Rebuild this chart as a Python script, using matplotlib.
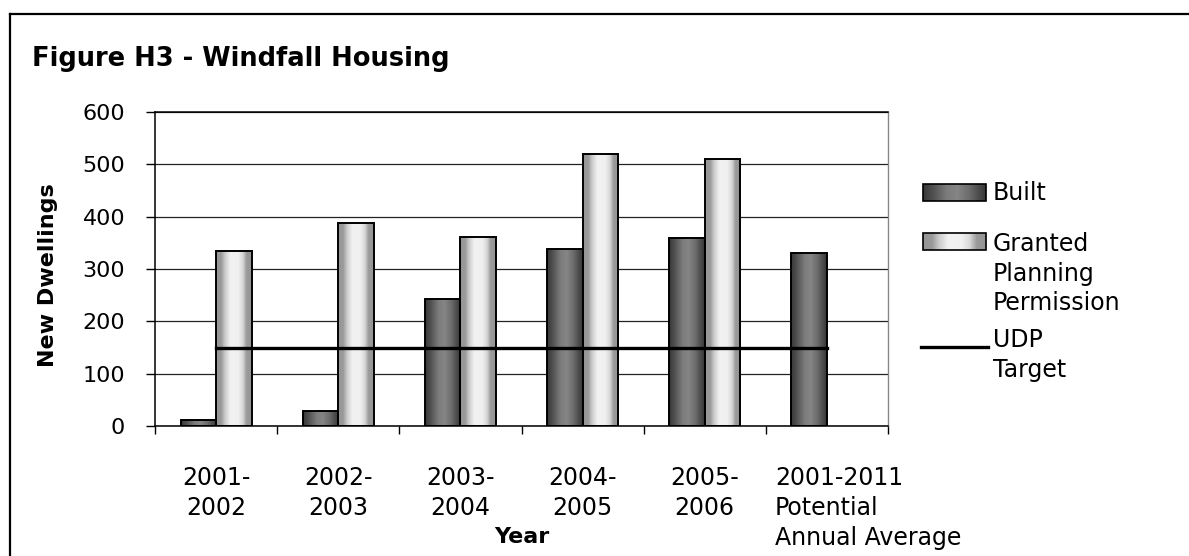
import numpy as np
import matplotlib
matplotlib.use("Agg")
import matplotlib.pyplot as plt
from matplotlib.colors import LinearSegmentedColormap
from matplotlib.transforms import ScaledTranslation

# Windfall housing figures by year
years = ["2001-\n2002", "2002-\n2003", "2003-\n2004", "2004-\n2005", "2005-\n2006",
         "2001-2011\nPotential\nAnnual Average"]
built = [12, 28, 242, 338, 360, 330]
granted = [335, 387, 361, 520, 510, np.nan]
udp_target = [150, 150, 150, 150, 150, 150]

plt.rcParams['font.family'] = ['DejaVu Sans']

# cylinder-style shading for the two bar series
dark_cmap = LinearSegmentedColormap.from_list(
    "dark", [(0, "#383838"), (0.15, "#505050"), (0.38, "#7c7c7c"), (0.55, "#858585"),
             (0.75, "#6a6a6a"), (0.92, "#464646"), (1, "#383838")])
light_cmap = LinearSegmentedColormap.from_list(
    "light", [(0, "#959595"), (0.14, "#9a9a9a"), (0.24, "#c8c8c8"), (0.4, "#f2f2f2"),
              (0.62, "#f0f0f0"), (0.75, "#d8d8d8"), (0.86, "#9a9a9a"), (1, "#959595")])
grad = np.linspace(0, 1, 64)[np.newaxis, :]

fig = plt.figure(figsize=(11.89, 5.56), dpi=100)
ax = fig.add_axes([155 / 1189, 1 - 426 / 556, 733 / 1189, 314 / 556])

x = np.arange(len(years))
w = 0.29


def shaded_bars(xpos, values, cmap):
    bars = ax.bar(xpos, values, width=w, facecolor="none", edgecolor="black",
                  linewidth=1.4, zorder=3)
    for b in bars:
        h = b.get_height()
        if not np.isfinite(h) or h <= 0:
            continue
        x0 = b.get_x()
        ax.imshow(grad, extent=[x0, x0 + b.get_width(), 0, h], cmap=cmap,
                  aspect="auto", interpolation="bilinear", zorder=2)
    return bars


shaded_bars(x - w / 2, built, dark_cmap)
shaded_bars(x + w / 2, granted, light_cmap)
ax.plot(x, udp_target, color="black", linewidth=2.4, zorder=4)

ax.set_xlim(-0.5, len(years) - 0.5)
ax.set_ylim(0, 600)
ax.set_yticks(range(0, 601, 100))
ax.yaxis.grid(True, color="#222222", linewidth=0.9)
ax.set_axisbelow(True)

ax.set_xticks(x)
ax.set_xticklabels(years, linespacing=1.3)
ax.set_xticks(np.arange(-0.5, len(years), 1), minor=True)
ax.tick_params(axis="x", which="major", length=0, pad=29, labelsize=17)
ax.tick_params(axis="x", which="minor", length=5.8, width=1, direction="out")
ax.tick_params(axis="y", length=6.5, width=1, direction="out", pad=15, labelsize=16)

last = ax.get_xticklabels()[-1]
last.set_horizontalalignment("left")
last.set_multialignment("left")
last.set_transform(last.get_transform() + ScaledTranslation(-0.52, 0, fig.dpi_scale_trans))

for side in ["left", "bottom", "top"]:
    ax.spines[side].set_color("black")
    ax.spines[side].set_linewidth(1.1)
ax.spines["right"].set_color("#888888")
ax.spines["right"].set_linewidth(1)

ax.set_ylabel("New Dwellings", fontsize=16, fontweight="bold", va="center")
ax.yaxis.set_label_coords(-0.146, 0.481)
ax.set_xlabel("Year", fontsize=16, fontweight="bold", va="top")
ax.xaxis.set_label_coords(0.5, -0.322)

# overlay in pixel units for the title, frame and legend
lax = fig.add_axes([0, 0, 1, 1])
lax.set_facecolor("none")
lax.axis("off")
lax.plot([10, 1189], [14, 14], color="black", linewidth=1.6)
lax.plot([10, 10], [14, 556], color="black", linewidth=1.6)
lax.text(32, 66, "Figure H3 - Windfall Housing", fontsize=18.5, fontweight="bold",
         ha="left", va="baseline")

lax.imshow(grad, extent=[923, 986, 201, 184], cmap=dark_cmap, aspect="auto",
           interpolation="bilinear")
lax.add_patch(plt.Rectangle((923, 184), 63, 17, facecolor="none", edgecolor="black",
                            linewidth=1.2))
lax.imshow(grad, extent=[923, 986, 250, 233], cmap=light_cmap, aspect="auto",
           interpolation="bilinear")
lax.add_patch(plt.Rectangle((923, 233), 63, 17, facecolor="none", edgecolor="black",
                            linewidth=1.2))
lax.plot([921, 988], [347, 347], color="black", linewidth=2.4)

lax.text(993, 181, "Built", fontsize=17, ha="left", va="top")
lax.text(993, 232, "Granted\nPlanning\nPermission", fontsize=17, ha="left", va="top",
         linespacing=1.3)
lax.text(993, 328, "UDP\nTarget", fontsize=17, ha="left", va="top", linespacing=1.3)

lax.set_xlim(0, 1189)
lax.set_ylim(556, 0)

fig.savefig("out.png", dpi=100, facecolor="white")
